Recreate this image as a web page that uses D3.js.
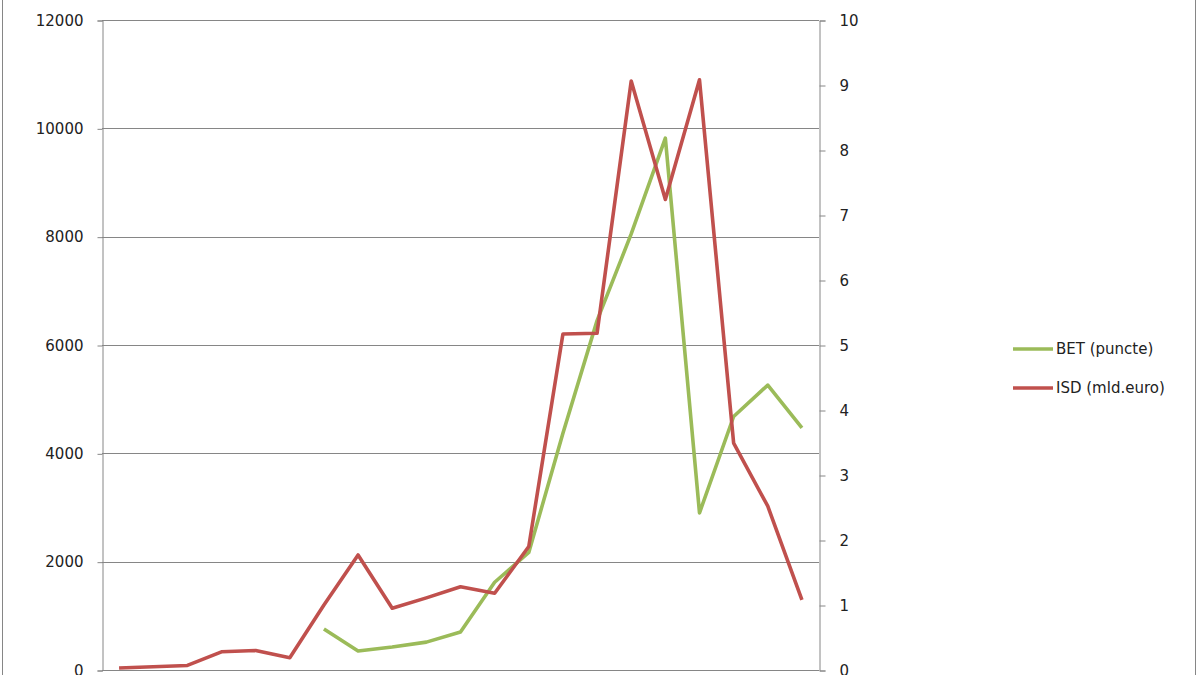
<!DOCTYPE html>
<html>
<head>
<meta charset="utf-8">
<script src="https://cdn.jsdelivr.net/npm/d3@7"></script>
<style>
  html, body { margin: 0; padding: 0; background: #fff; }
  svg { display: block; }
  text { font-family: "DejaVu Sans", sans-serif; fill: #222; }
</style>
</head>
<body>
<svg id="chart" width="1200" height="675"></svg>
<script>
// ---- data ----
const years = ["1991","1992","1993","1994","1995","1996","1997","1998","1999","2000","2001","2002","2003","2004","2005","2006","2007","2008","2009","2010","2011"];
const betValues = [null, null, null, null, null, null, 757, 350, 425, 515, 700, 1620, 2170, 4370, 6450, 8050, 9820, 2900, 4680, 5260, 4470];
const isdValues = [0.03, 0.05, 0.07, 0.28, 0.3, 0.19, 1.0, 1.77, 0.95, 1.11, 1.28, 1.18, 1.9, 5.17, 5.18, 9.06, 7.24, 9.08, 3.49, 2.52, 1.08];
const leftTicks = [0, 2000, 4000, 6000, 8000, 10000, 12000];
const rightTicks = [0, 1, 2, 3, 4, 5, 6, 7, 8, 9, 10];
const seriesNames = ["BET (puncte)", "ISD (mld.euro)"];
const seriesColors = ["#9bbb59", "#c0504d"];

// ---- layout ----
const svg = d3.select("#chart");
const plot = { left: 102, right: 819, top: 20, bottom: 670 };
const axisColor = "#868686";

// outer chart border
svg.append("rect")
  .attr("x", 2.5).attr("y", -10)
  .attr("width", 1193).attr("height", 700)
  .attr("fill", "none").attr("stroke", axisColor).attr("stroke-width", 1);

const x = d3.scalePoint().domain(years).range([plot.left, plot.right]).padding(0.5);
const yL = d3.scaleLinear().domain([0, 12000]).range([plot.bottom, plot.top]);
const yR = d3.scaleLinear().domain([0, 10]).range([plot.bottom, plot.top]);

// gridlines
svg.append("g").selectAll("line").data(leftTicks).join("line")
  .attr("x1", plot.left).attr("x2", plot.right)
  .attr("y1", d => Math.round(yL(d)) + 0.5).attr("y2", d => Math.round(yL(d)) + 0.5)
  .attr("stroke", axisColor).attr("stroke-width", 1);

// left axis
const gL = svg.append("g").attr("transform", `translate(${plot.left + 0.5},0.5)`)
  .call(d3.axisLeft(yL).tickValues(leftTicks).tickSize(5).tickPadding(14).tickFormat(d3.format("d")));
gL.selectAll("path,line").attr("stroke", axisColor);
gL.selectAll("text").style("font-size", "15px").attr("fill", "#222").style("font-family", "DejaVu Sans, sans-serif");

// right axis
const gR = svg.append("g").attr("transform", `translate(${plot.right + 0.5},0.5)`)
  .call(d3.axisRight(yR).tickValues(rightTicks).tickSize(6).tickPadding(14).tickFormat(d3.format("d")));
gR.selectAll("path,line").attr("stroke", axisColor);
gR.selectAll("text").style("font-size", "15px").attr("fill", "#222").style("font-family", "DejaVu Sans, sans-serif");

// bottom axis line (its ticks and labels lie below the visible area)
const gB = svg.append("g").attr("transform", `translate(0,${plot.bottom + 0.5})`)
  .call(d3.axisBottom(x).tickSize(0).tickSizeOuter(0).tickFormat(""));
gB.select(".domain").attr("d", `M${plot.left},0H${plot.right}`).attr("stroke", axisColor);
gB.selectAll(".tick").remove();

// lines
const betLine = d3.line()
  .defined(d => d.v != null)
  .x(d => x(d.year)).y(d => yL(d.v));
const isdLine = d3.line()
  .x(d => x(d.year)).y(d => yR(d.v));

svg.append("path")
  .datum(years.map((yr, i) => ({ year: yr, v: betValues[i] })))
  .attr("d", betLine)
  .attr("fill", "none").attr("stroke", seriesColors[0])
  .attr("stroke-width", 3.6).attr("stroke-linejoin", "round");

svg.append("path")
  .datum(years.map((yr, i) => ({ year: yr, v: isdValues[i] })))
  .attr("d", isdLine)
  .attr("fill", "none").attr("stroke", seriesColors[1])
  .attr("stroke-width", 3.6).attr("stroke-linejoin", "round");

// legend
const legend = svg.append("g").attr("transform", "translate(1013,349)");
seriesNames.forEach((name, i) => {
  const g = legend.append("g").attr("transform", `translate(0,${i * 39})`);
  g.append("line").attr("x1", 0).attr("x2", 40).attr("y1", 0).attr("y2", 0)
    .attr("stroke", seriesColors[i]).attr("stroke-width", 3.6);
  g.append("text").attr("x", 43).attr("y", 0).attr("dy", "0.35em")
    .style("font-size", "15px").text(name);
});
</script>
</body>
</html>
